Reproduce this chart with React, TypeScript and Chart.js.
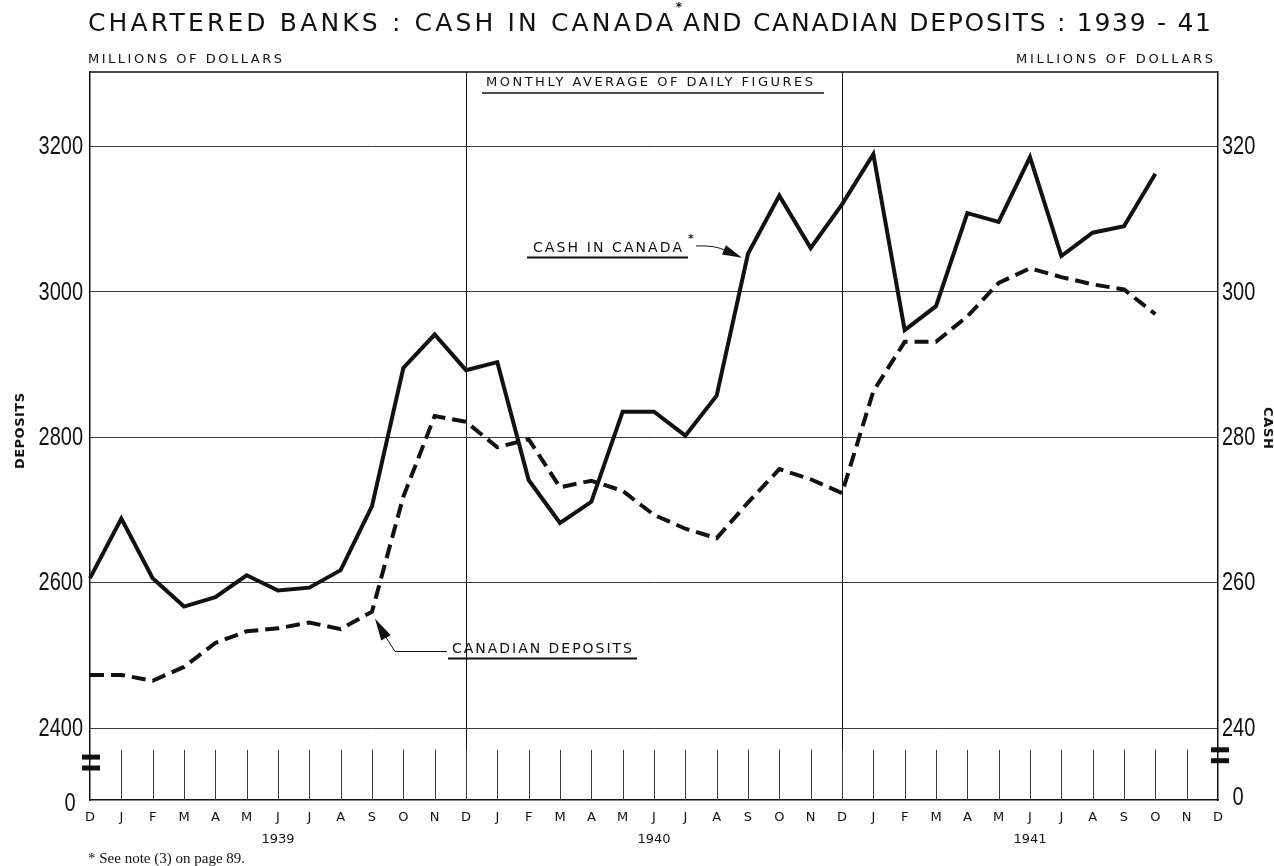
import React, { useEffect, useRef } from 'react';
import { Chart, registerables } from 'chart.js';

Chart.register(...registerables);

// ---------- data ----------
const monthLetters = [
  'D', 'J', 'F', 'M', 'A', 'M', 'J', 'J', 'A', 'S', 'O', 'N',
  'D', 'J', 'F', 'M', 'A', 'M', 'J', 'J', 'A', 'S', 'O', 'N',
  'D', 'J', 'F', 'M', 'A', 'M', 'J', 'J', 'A', 'S', 'O', 'N', 'D',
];
const yearLabelIndex = [6, 18, 30];
const yearLabels = ['1939', '1940', '1941'];

// Cash in Canada (right axis, millions of dollars)
const cashInCanada = [
  260.6, 268.8, 260.6, 256.7, 258.0, 261.0, 258.9, 259.3, 261.7, 270.5, 289.5, 294.1,
  289.2, 290.3, 274.1, 268.2, 271.1, 283.5, 283.5, 280.2, 285.7, 305.2, 313.2, 306.0,
  312.0, 318.9, 294.7, 298.0, 310.8, 309.6, 318.5, 304.9, 308.1, 309.0, 316.2, null, null,
];
// Canadian deposits (left axis, millions of dollars)
const canadianDeposits = [
  2473, 2473, 2465, 2484, 2517, 2533, 2537, 2545, 2536, 2560, 2718, 2829,
  2821, 2786, 2797, 2731, 2740, 2726, 2693, 2674, 2661, 2710, 2756, 2742,
  2723, 2863, 2931, 2931, 2966, 3012, 3032, 3020, 3010, 3003, 2969, null, null,
];

const leftTicks = [2400, 2600, 2800, 3000, 3200];
const rightTicks = [240, 260, 280, 300, 320];
const LEFT_MIN = 2301;
const LEFT_MAX = 3302;
const RIGHT_MIN = 230.1;
const RIGHT_MAX = 330.2;
const BAND_TICK_TOP = 2370; // top of the short month ticks in the broken-axis band

// ---------- layout constants ----------
const W = 1274;
const H = 866;
const INK = '#111';
const GRID = '#3a3a3a';
const NUM_FONT = "'Liberation Sans', Arial, sans-serif";
const SANS = "'DejaVu Sans', 'Liberation Sans', sans-serif";

function fitText(ctx: CanvasRenderingContext2D, text: string, x1: number, x2: number, y: number, font: string) {
  ctx.save();
  ctx.font = font;
  (ctx as any).letterSpacing = '0px';
  const w = ctx.measureText(text).width;
  const n = text.length;
  const ls = n > 1 ? (x2 - x1 - w) / (n - 1) : 0;
  (ctx as any).letterSpacing = ls + 'px';
  ctx.textAlign = 'left';
  ctx.textBaseline = 'middle';
  ctx.fillStyle = INK;
  ctx.fillText(text, x1, y);
  (ctx as any).letterSpacing = '0px';
  ctx.restore();
}

function drawNum(ctx: CanvasRenderingContext2D, text: string, x: number, y: number, align: CanvasTextAlign) {
  ctx.save();
  ctx.translate(x, y);
  ctx.scale(0.8, 1);
  ctx.font = `25px ${NUM_FONT}`;
  ctx.textAlign = align;
  ctx.textBaseline = 'middle';
  ctx.fillStyle = INK;
  ctx.fillText(text, 0, 1);
  ctx.restore();
}

function arrowHead(ctx: CanvasRenderingContext2D, bx: number, by: number, tx: number, ty: number, half: number) {
  const dx = tx - bx;
  const dy = ty - by;
  const len = Math.hypot(dx, dy) || 1;
  const nx = -dy / len;
  const ny = dx / len;
  ctx.beginPath();
  ctx.moveTo(tx, ty);
  ctx.lineTo(bx + nx * half, by + ny * half);
  ctx.lineTo(bx - nx * half, by - ny * half);
  ctx.closePath();
  ctx.fill();
}

const decorPlugin = {
  id: 'decor',
  beforeDraw(chart: any) {
    const { ctx } = chart;
    ctx.save();
    ctx.fillStyle = '#fff';
    ctx.fillRect(0, 0, W, H);
    ctx.restore();
  },
  beforeDatasetsDraw(chart: any) {
    const { ctx, chartArea } = chart;
    const x = chart.scales.x;
    const y = chart.scales.y;
    const y2 = chart.scales.y2;
    ctx.save();
    // top border
    ctx.strokeStyle = INK;
    ctx.lineWidth = 1.5;
    ctx.beginPath();
    ctx.moveTo(chartArea.left, chartArea.top);
    ctx.lineTo(chartArea.right, chartArea.top);
    ctx.stroke();
    // short month ticks in broken band
    ctx.lineWidth = 1;
    ctx.strokeStyle = GRID;
    const topY = y.getPixelForValue(BAND_TICK_TOP);
    for (let i = 1; i < monthLetters.length - 1; i++) {
      const px = Math.round(x.getPixelForValue(i)) + 0.5;
      ctx.beginPath();
      ctx.moveTo(px, chartArea.bottom);
      ctx.lineTo(px, topY);
      ctx.stroke();
    }
    // break marks
    ctx.fillStyle = INK;
    const lb1 = y.getPixelForValue(2360);
    const lb2 = y.getPixelForValue(2345);
    ctx.fillRect(chartArea.left - 8, lb1 - 2.5, 18, 5);
    ctx.fillRect(chartArea.left - 8, lb2 - 2.5, 18, 5);
    const rb1 = y2.getPixelForValue(237.0);
    const rb2 = y2.getPixelForValue(235.5);
    ctx.fillRect(chartArea.right - 7, rb1 - 2.5, 18, 5);
    ctx.fillRect(chartArea.right - 7, rb2 - 2.5, 18, 5);
    ctx.restore();
  },
  afterDraw(chart: any) {
    const { ctx, chartArea } = chart;
    const x = chart.scales.x;
    const y = chart.scales.y;
    const y2 = chart.scales.y2;
    ctx.save();
    ctx.fillStyle = INK;
    ctx.strokeStyle = INK;

    // axis numbers (condensed)
    leftTicks.forEach((v) => drawNum(ctx, String(v), chartArea.left - 7, y.getPixelForValue(v), 'right'));
    drawNum(ctx, '0', 70, chartArea.bottom + 3, 'center');
    rightTicks.forEach((v) => drawNum(ctx, String(v), chartArea.right + 4, y2.getPixelForValue(v), 'left'));
    drawNum(ctx, '0', chartArea.right + 20, chartArea.bottom - 3, 'center');

    // title
    fitText(ctx, 'CHARTERED BANKS : CASH IN CANADA', 88, 673, 24, `25px ${SANS}`);
    fitText(ctx, 'AND CANADIAN DEPOSITS : 1939 - 41', 683, 1211, 24, `25px ${SANS}`);
    ctx.font = `bold 12px ${SANS}`;
    ctx.textAlign = 'center';
    ctx.textBaseline = 'middle';
    ctx.fillText('*', 679, 8);

    // units
    fitText(ctx, 'MILLIONS OF DOLLARS', 88, 282, 60, `13px ${SANS}`);
    fitText(ctx, 'MILLIONS OF DOLLARS', 1016, 1213, 60, `13px ${SANS}`);

    // monthly average label
    fitText(ctx, 'MONTHLY AVERAGE OF DAILY FIGURES', 486, 813, 83, `13px ${SANS}`);
    ctx.lineWidth = 1.5;
    ctx.beginPath();
    ctx.moveTo(482, 93);
    ctx.lineTo(824, 93);
    ctx.stroke();

    // axis titles
    ctx.save();
    ctx.translate(21, 431);
    ctx.rotate(-Math.PI / 2);
    fitText(ctx, 'DEPOSITS', -38, 38, 0, `bold 13px ${SANS}`);
    ctx.restore();
    ctx.save();
    ctx.translate(1267, 428);
    ctx.rotate(Math.PI / 2);
    fitText(ctx, 'CASH', -21, 21, 0, `bold 13px ${SANS}`);
    ctx.restore();

    // CASH IN CANADA annotation
    fitText(ctx, 'CASH IN CANADA', 533, 682, 248, `14px ${SANS}`);
    ctx.lineWidth = 2;
    ctx.beginPath();
    ctx.moveTo(527, 257.5);
    ctx.lineTo(688, 257.5);
    ctx.stroke();
    ctx.font = `bold 11px ${SANS}`;
    ctx.textAlign = 'center';
    ctx.textBaseline = 'middle';
    ctx.fillText('*', 691, 239);
    const cx = x.getPixelForValue(21);
    const cy = y2.getPixelForValue(cashInCanada[21] as number);
    const ctipX = cx - 6;
    const ctipY = cy + 4;
    ctx.lineWidth = 1;
    ctx.beginPath();
    ctx.moveTo(696, 246);
    ctx.quadraticCurveTo(716, 245, ctipX - 16, ctipY - 7);
    ctx.stroke();
    arrowHead(ctx, ctipX - 18, ctipY - 8, ctipX, ctipY, 5);

    // CANADIAN DEPOSITS annotation
    fitText(ctx, 'CANADIAN DEPOSITS', 452, 632, 649, `14px ${SANS}`);
    ctx.lineWidth = 2;
    ctx.beginPath();
    ctx.moveTo(448, 658.5);
    ctx.lineTo(637, 658.5);
    ctx.stroke();
    const dx = x.getPixelForValue(9);
    const dy = y.getPixelForValue(canadianDeposits[9] as number);
    const dtipX = dx + 3;
    const dtipY = dy + 7;
    const elbowX = dtipX + 20;
    const elbowY = 651.5;
    ctx.lineWidth = 1;
    ctx.beginPath();
    ctx.moveTo(447, elbowY);
    ctx.lineTo(elbowX, elbowY);
    ctx.lineTo(dtipX + 8, dtipY + 14);
    ctx.stroke();
    arrowHead(ctx, dtipX + 11, dtipY + 19, dtipX, dtipY, 5.5);

    // footnote
    ctx.font = `15px 'Liberation Serif', 'DejaVu Serif', serif`;
    ctx.textAlign = 'left';
    ctx.textBaseline = 'middle';
    ctx.fillText('* See note (3) on page 89.', 88, 859);

    ctx.restore();
  },
};

export default function App() {
  const ref = useRef<HTMLCanvasElement>(null);
  useEffect(() => {
    if (!ref.current) return;
    const labels = monthLetters.map((m, i) => {
      const k = yearLabelIndex.indexOf(i);
      return k >= 0 ? [m, yearLabels[k]] : m;
    });
    const chart = new Chart(ref.current, {
      type: 'line',
      data: {
        labels,
        datasets: [
          {
            label: 'Cash in Canada',
            data: cashInCanada,
            yAxisID: 'y2',
            borderColor: INK,
            borderWidth: 4,
            pointRadius: 0,
            tension: 0,
            borderJoinStyle: 'miter',
            borderCapStyle: 'butt',
            spanGaps: false,
          },
          {
            label: 'Canadian Deposits',
            data: canadianDeposits,
            yAxisID: 'y',
            borderColor: INK,
            borderWidth: 4,
            borderDash: [14, 7],
            pointRadius: 0,
            tension: 0,
            borderJoinStyle: 'miter',
            borderCapStyle: 'butt',
            spanGaps: false,
          },
        ],
      } as any,
      options: {
        responsive: false,
        animation: false,
        devicePixelRatio: 1,
        layout: { padding: { top: 72, left: 0, right: 0, bottom: 0 } },
        plugins: { legend: { display: false }, tooltip: { enabled: false }, title: { display: false } },
        scales: {
          x: {
            type: 'category',
            offset: false,
            grid: {
              drawTicks: false,
              lineWidth: 1,
              color: (c: any) => (c.index === 12 || c.index === 24 ? INK : 'rgba(0,0,0,0)'),
            },
            border: { display: true, color: INK, width: 1.5 },
            ticks: {
              autoSkip: false,
              maxRotation: 0,
              minRotation: 0,
              padding: 7,
              color: INK,
              font: { family: SANS, size: 13, lineHeight: 22 / 13 },
            },
            afterFit: (s: any) => { s.height = 66; },
          },
          y: {
            type: 'linear',
            position: 'left',
            min: LEFT_MIN,
            max: LEFT_MAX,
            afterBuildTicks: (s: any) => {
              s.ticks = [LEFT_MIN, ...leftTicks].map((v) => ({ value: v }));
            },
            grid: {
              drawTicks: false,
              lineWidth: 1,
              color: (c: any) => (c.tick && c.tick.value === LEFT_MIN ? 'rgba(0,0,0,0)' : GRID),
            },
            border: { display: true, color: INK, width: 1.5 },
            ticks: { display: false },
            afterFit: (s: any) => { s.width = 90; },
          },
          y2: {
            type: 'linear',
            position: 'right',
            min: RIGHT_MIN,
            max: RIGHT_MAX,
            afterBuildTicks: (s: any) => {
              s.ticks = [RIGHT_MIN, ...rightTicks].map((v) => ({ value: v }));
            },
            grid: { display: false, drawTicks: false },
            border: { display: true, color: INK, width: 1.5 },
            ticks: { display: false },
            afterFit: (s: any) => { s.width = W - 1218; },
          },
        },
      } as any,
      plugins: [decorPlugin],
    });
    return () => chart.destroy();
  }, []);

  return (
    <div style={{ position: 'absolute', left: 0, top: 0, width: W, height: H, background: '#fff', overflow: 'hidden' }}>
      <canvas ref={ref} width={W} height={H} style={{ width: W, height: H, display: 'block' }} />
    </div>
  );
}
